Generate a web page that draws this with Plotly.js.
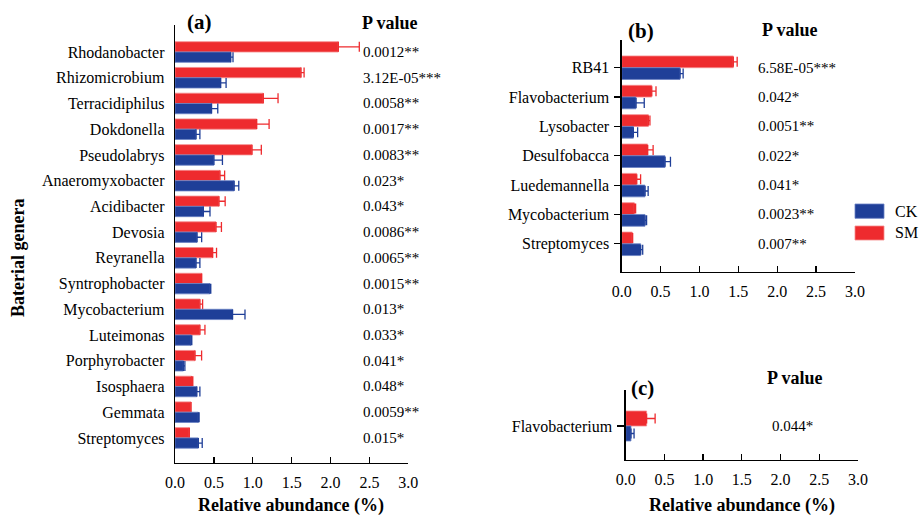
<!DOCTYPE html>
<html>
<head>
<meta charset="utf-8">
<script src="https://cdn.plot.ly/plotly-3.0.1.min.js"></script>
<style>html,body{margin:0;padding:0;background:#fff;}#chart{width:920px;height:517px;}</style>
</head>
<body>
<div id="chart"></div>
<script>
// ---- Data ----
const catsA = ["Rhodanobacter","Rhizomicrobium","Terracidiphilus","Dokdonella","Pseudolabrys","Anaeromyxobacter","Acidibacter","Devosia","Reyranella","Syntrophobacter","Mycobacterium","Luteimonas","Porphyrobacter","Isosphaera","Gemmata","Streptomyces"];
const smA    = [2.10,1.62,1.135,1.05,0.99,0.578,0.565,0.527,0.484,0.343,0.32,0.32,0.257,0.214,0.206,0.184];
const smErrA = [0.27,0.04,0.19,0.16,0.12,0.06,0.08,0.07,0.05,0.0,0.035,0.065,0.085,0.015,0.0,0.0];
const ckA    = [0.716,0.587,0.47,0.27,0.50,0.76,0.365,0.283,0.27,0.45,0.74,0.206,0.107,0.28,0.30,0.30];
const ckErrA = [0.03,0.07,0.08,0.05,0.11,0.06,0.085,0.06,0.05,0.01,0.16,0.01,0.02,0.04,0.01,0.05];
const pA = ["0.0012**","3.12E-05***","0.0058**","0.0017**","0.0083**","0.023*","0.043*","0.0086**","0.0065**","0.0015**","0.013*","0.033*","0.041*","0.048*","0.0059**","0.015*"];

const catsB = ["RB41","Flavobacterium","Lysobacter","Desulfobacca","Luedemannella","Mycobacterium","Streptomyces"];
const smB    = [1.435,0.386,0.343,0.334,0.193,0.162,0.136];
const smErrB = [0.05,0.055,0.02,0.07,0.05,0.017,0.005];
const ckB    = [0.75,0.184,0.15,0.557,0.30,0.30,0.244];
const ckErrB = [0.04,0.106,0.055,0.07,0.04,0.02,0.026];
const pB = ["6.58E-05***","0.042*","0.0051**","0.022*","0.041*","0.0023**","0.007**"];

const catsC = ["Flavobacterium"];
const smC    = [0.27];
const smErrC = [0.11];
const ckC    = [0.068];
const ckErrC = [0.04];
const pC = ["0.044*"];

const xTicks = [0,0.5,1.0,1.5,2.0,2.5,3.0];
const groups = ["SM","CK"];
const xTitle = "Relative abundance (%)";
const yTitle = "Baterial genera";

// ---- Style ----
const RED = "#EE2B2E", BLUE = "#1F3F98";
const FONT = "Times New Roman, Liberation Serif, DejaVu Serif, serif";
const W = 920, H = 517;
const px = v => v / W, py = v => 1 - v / H;

function barTrace(name, cats, vals, errs, color, lineColor, xa, ya) {
  return {
    type: "bar", orientation: "h", name: name,
    y: cats, x: vals, xaxis: xa, yaxis: ya,
    marker: {color: color, line: {color: lineColor, width: 0.8}},
    error_x: {type: "data", array: errs, arrayminus: errs.map(() => 0), symmetric: false,
              color: color, thickness: 1.3, width: 5},
    hoverinfo: "x+y+name"
  };
}

const traces = [
  barTrace(groups[0], catsA, smA, smErrA, RED, "#F58A8C", "x", "y"),
  barTrace(groups[1], catsA, ckA, ckErrA, BLUE, "#6A82C4", "x", "y"),
  barTrace(groups[0], catsB, smB, smErrB, RED, "#F58A8C", "x2", "y2"),
  barTrace(groups[1], catsB, ckB, ckErrB, BLUE, "#6A82C4", "x2", "y2"),
  barTrace(groups[0], catsC, smC, smErrC, RED, "#F58A8C", "x3", "y3"),
  barTrace(groups[1], catsC, ckC, ckErrC, BLUE, "#6A82C4", "x3", "y3")
];

function xAxis(domain, anchor) {
  return {
    domain: domain, anchor: anchor, range: [0, 3], tickvals: xTicks, tickformat: ".1f",
    ticks: "inside", ticklen: 6, tickwidth: 1.3, tickcolor: "#000",
    showline: true, linewidth: 1.3, linecolor: "#000",
    showgrid: false, zeroline: false, fixedrange: true,
    tickfont: {family: FONT, size: 16, color: "#000"}, ticklabelstandoff: 4
  };
}
function yAxis(domain, anchor, range, ticklen) {
  return {
    domain: domain, anchor: anchor, type: "category", range: range,
    showline: true, linewidth: 1.3, linecolor: "#000",
    ticks: ticklen ? "outside" : "", ticklen: ticklen || 0, tickwidth: 1.2, tickcolor: "#000",
    showgrid: false, zeroline: false, fixedrange: true,
    tickfont: {family: FONT, size: 16, color: "#000"}, ticklabelstandoff: ticklen ? 2 : 6
  };
}

const layout = {
  width: W, height: H, margin: {l: 0, r: 0, t: 0, b: 0},
  paper_bgcolor: "#fff", plot_bgcolor: "#fff",
  showlegend: false, barmode: "group", bargap: 0.2, bargroupgap: 0,
  font: {family: FONT, size: 16, color: "#000"},
  xaxis: xAxis([px(175), px(408.3)], "y"),
  yaxis: yAxis([py(463), py(25)], "x", [15.975, -1.05], 0),
  xaxis2: xAxis([px(621.7), px(855)], "y2"),
  yaxis2: yAxis([py(272), py(40)], "x2", [6.96, -0.944], 6),
  xaxis3: xAxis([px(625.7), px(858)], "y3"),
  yaxis3: yAxis([py(460), py(390)], "x3", [0.907, -0.96], 7),
  annotations: [],
  shapes: []
};

const ann = layout.annotations;
function label(text, x, y, size, angle) {
  ann.push({text: "<b>" + text + "</b>", xref: "paper", yref: "paper", x: px(x), y: py(y),
            xanchor: "center", yanchor: "middle", showarrow: false, textangle: angle || 0,
            font: {family: FONT, size: size, color: "#000"}});
}
label("(a)", 199, 22, 21);
label("P value", 390, 23, 18);
label("(b)", 641, 31, 21);
label("P value", 790, 30, 18);
label("(c)", 642, 388, 21);
label("P value", 795, 378, 18);
label(xTitle, 291, 505, 18);
label(xTitle, 742, 505, 18);
label(yTitle, 18, 258, 18, -90);

function pvals(list, cats, xa, ya, xStart) {
  list.forEach((t, i) => ann.push({
    text: t, xref: "paper", yref: ya, x: px(xStart), y: cats[i],
    xanchor: "left", yanchor: "middle", showarrow: false,
    font: {family: FONT, size: 15, color: "#000"}
  }));
}
pvals(pA, catsA, "x", "y", 361);
pvals(pB, catsB, "x2", "y2", 756);
pvals(pC, catsC, "x3", "y3", 770);

// Legend
const legendItems = [[groups[1], BLUE, "#6A82C4", 204, 218.3], [groups[0], RED, "#F58A8C", 226, 240]];
legendItems.forEach(([name, c, lc, y0, y1]) => {
  layout.shapes.push({type: "rect", xref: "paper", yref: "paper",
    x0: px(855), x1: px(884), y0: py(y1), y1: py(y0),
    fillcolor: c, line: {color: lc, width: 0.8}});
  ann.push({text: name, xref: "paper", yref: "paper", x: px(893), y: py((y0 + y1) / 2),
    xanchor: "left", yanchor: "middle", showarrow: false,
    font: {family: FONT, size: 16, color: "#000"}});
});

Plotly.newPlot("chart", traces, layout, {displayModeBar: false, staticPlot: true});
</script>
</body>
</html>
